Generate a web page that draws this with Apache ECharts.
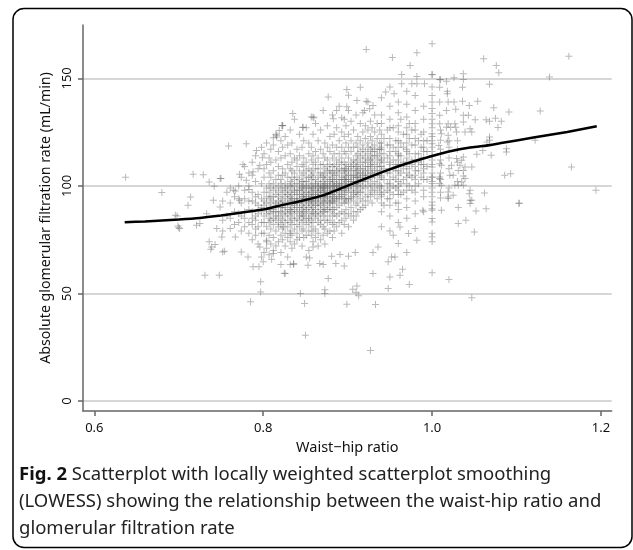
<!DOCTYPE html>
<html><head><meta charset="utf-8">
<script src="https://cdn.jsdelivr.net/npm/echarts@6/dist/echarts.min.js"></script>
<style>html,body{margin:0;padding:0;background:#fff}#c{width:633px;height:550px}</style>
</head><body><div id="c"></div>
<script>
const xTicks = [0.6, 0.8, 1.0, 1.2];
const yTicks = [0, 50, 100, 150];
const xTitle = 'Waist\u2212hip ratio';
const yTitle = 'Absolute glomerular filtration rate (mL/min)';

const lowessWhr = [0.636, 0.66, 0.70, 0.725, 0.75, 0.775, 0.80, 0.825, 0.845, 0.87, 0.895, 0.92, 0.945, 0.97, 1.0, 1.02, 1.045, 1.06, 1.08, 1.12, 1.16, 1.195];
const lowessGfr = [83.1, 83.5, 84.4, 85.1, 86.2, 87.6, 89.0, 91.3, 93.0, 95.5, 99.3, 103.2, 107.0, 110.4, 113.9, 116.0, 117.9, 118.5, 119.8, 122.5, 125.1, 127.7];

// individually read points (outer and sparse parts of the cloud)
const sparsePoints = [
[0.637,104.0],[0.680,96.9],[0.696,86.4],[0.701,80.2],[0.699,81.4],[0.714,94.8],[0.711,91.0],[0.717,105.4],[0.725,82.5],[0.729,105.2],
[0.731,58.5],[0.748,58.5],[0.736,101.8],[0.742,99.8],[0.750,103.4],[0.736,74.0],[0.739,71.6],[0.738,70.6],[0.743,72.7],[0.752,69.3],
[0.754,69.6],[0.751,76.3],[0.761,80.2],[0.767,76.3],[0.774,69.3],[0.782,67.0],[0.788,62.4],[0.795,62.4],[0.798,67.0],[0.797,55.4],
[0.785,46.1],[0.797,50.7],[0.826,59.3],[0.759,118.5],[0.780,119.6],[0.792,116.5],[0.799,113.1],[0.776,110.0],[0.772,105.4],[0.788,106.6],
[0.796,109.6],[0.780,102.6],[0.767,97.6],[0.783,98.3],[0.749,103.4],[0.741,93.3],[0.749,90.2],[0.765,98.0],[0.772,93.3],[0.745,80.2],
[0.733,87.1],[0.721,81.7],[0.700,80.6],[0.698,86.0],[0.816,122.7],[0.823,128.1],[0.835,133.6],[0.847,127.3],[0.859,132.0],[0.832,77.9],
[0.824,80.9],[0.804,74.7],[0.812,68.6],[0.796,71.6],[0.836,63.9],[0.844,50.0],[0.849,45.3],[0.851,67.0],[0.859,71.6],[0.850,30.6],
[0.899,45.0],[0.933,44.9],[0.927,23.5],[0.873,51.7],[0.873,50.0],[0.906,52.0],[0.911,53.5],[0.913,48.9],[0.910,50.5],[0.948,52.3],
[0.973,54.2],[1.000,59.6],[0.962,58.5],[0.950,57.7],[0.930,59.3],[0.877,57.0],[0.825,59.4],[0.821,63.5],[0.832,63.5],[0.836,63.5],
[0.853,63.1],[0.867,63.9],[0.871,63.5],[0.886,63.9],[0.896,62.8],[0.810,65.9],[0.800,64.7],[0.855,66.5],[0.881,67.3],[0.891,68.1],
[0.901,67.3],[0.909,69.0],[0.930,69.0],[0.948,64.7],[0.952,67.0],[0.956,67.0],[0.965,61.3],[0.970,69.0],[0.936,71.6],[0.960,73.2],
[0.982,74.7],[1.000,76.3],[1.000,74.0],[0.989,88.7],[1.000,88.7],[0.980,80.2],[0.972,77.9],[0.962,80.9],[0.954,77.1],
[1.103,91.8],[1.064,89.4],[1.052,88.3],[1.050,78.6],[1.040,84.0],[1.031,82.5],[1.031,89.9],[1.047,93.3],[1.045,91.8],[1.019,94.1],
[1.010,94.4],[1.011,88.7],[1.000,92.5],[1.000,89.4],[1.000,84.8],[1.000,83.2],[1.020,56.5],[1.047,48.0],
[1.000,166.1],[1.061,159.1],[1.076,156.0],[1.079,152.6],[1.162,160.3],[1.139,150.6],[1.068,147.2],[1.037,152.1],[1.026,150.3],[1.010,149.3],
[1.000,151.7],[1.036,145.9],[1.009,145.9],[1.018,144.0],[1.018,142.8],[1.000,139.0],[1.000,133.6],[1.000,128.9],[1.000,124.3],[1.000,119.6],
[1.000,108.8],[1.000,104.1],[1.000,101.1],[1.009,139.0],[1.019,139.0],[1.026,139.0],[1.036,139.4],[1.044,137.4],[1.054,139.4],[1.073,136.3],
[1.091,134.3],[1.128,134.8],[1.017,135.1],[1.028,135.6],[1.009,132.8],[1.037,132.8],[1.043,132.8],[1.051,130.8],[1.064,130.8],[1.068,130.1],
[1.075,131.5],[1.082,130.1],[1.078,127.1],[1.009,128.9],[1.019,128.9],[1.027,128.9],[1.017,127.3],[1.022,127.3],[1.028,127.3],[1.037,129.7],
[1.039,125.0],[1.029,125.0],[1.045,126.6],[1.047,125.0],[1.011,124.3],[1.019,123.5],[1.010,121.2],[1.018,120.4],[1.008,118.8],[1.068,122.7],
[1.068,121.2],[1.065,120.4],[1.122,121.2],[1.088,117.3],[1.088,115.8],[1.060,116.5],[1.053,114.7],[1.070,114.2],[1.037,113.4],[1.029,112.7],
[1.035,111.9],[1.009,110.3],[1.011,109.6],[1.023,109.6],[1.033,109.6],[1.039,108.8],[1.047,108.8],[1.031,107.2],[1.037,107.2],[1.021,104.9],
[1.025,104.9],[1.037,104.6],[1.039,103.4],[1.086,104.9],[1.093,105.7],[1.009,104.1],[1.009,103.4],[1.011,100.3],[1.009,101.1],[1.027,100.3],
[1.031,100.3],[1.035,101.8],[1.037,100.3],[1.045,98.0],[1.044,96.4],[1.045,93.3],[1.019,97.2],[1.025,95.6],[1.019,94.8],[1.062,96.7],
[1.103,92.1],[1.165,108.8],[1.194,98.0],
[0.922,163.4],[0.953,159.7],[0.982,161.9],[0.974,156.0],[0.964,151.8],[0.982,150.9],[1.000,151.8],[1.037,149.5],[1.009,149.5],[1.017,148.6],
[0.964,147.5],[0.976,147.5],[0.982,147.5],[0.991,147.5],[0.915,145.9],[0.899,144.8],[0.877,141.3],[0.901,142.1],[0.911,139.7],[0.922,139.4],
[0.945,143.6],[0.955,142.8],[0.930,137.4],[0.920,135.1],[0.926,135.9],[0.899,136.8],[0.887,135.1],[0.860,131.7],[0.883,131.2],[0.893,131.7],
[0.847,127.1],[0.822,128.1],[0.819,125.8],[0.812,122.4],[0.816,123.5]
];

// dense core, read as narrow columns of waist-hip ratio
const coreWhr = [
0.752,0.757,0.761,0.766,0.771,0.774,0.778,0.783,0.787,0.791,0.794,0.798,
0.801,0.804,0.807,0.809,0.812,0.815,0.818,0.821,0.823,0.826,0.829,0.832,0.834,0.837,0.840,0.843,0.846,0.848,0.851,0.854,0.857,0.859,
0.862,0.865,0.868,0.871,0.873,0.876,0.879,0.882,0.884,0.887,0.890,0.893,0.896,0.898,0.901,0.904,0.907,0.910,0.912,0.915,0.918,0.921,
0.924,0.927,0.929,0.932,0.935,0.938,
0.94,0.95,0.96,0.97,0.98,0.99,1.00,1.01,1.02,1.03,
0.943,0.947,0.954,0.957,0.963,0.966,0.973,0.976,0.984,0.987,0.994];
const coreGfr = [
[84,93,79],[86,97],[85,92,99],[82,88,95],[83,87,94,100],[79,86,92,104],
[81,85,88,94,98,109],[78,83,89,93,100,106],[75,82,85,88,93,97,105,111],[77,80,84,86,92,95,102,114],
[87,73,96,81,91,108],[83,94,78,88,101,118,90],
[91,78,104,86,69,97,115,83,93,108],
[87,99,74,92,110,81,95,120,89,71],
[94,83,101,77,88,113,68,97,85,106,90],
[80,92,99,87,117,73,95,104,84,90,111],
[89,76,98,93,85,107,70,101,82,119,95,88],
[92,84,79,103,96,88,112,72,99,86,124,91],
[86,95,81,100,91,74,109,88,97,116,83,93,105],
[90,98,77,85,94,103,88,113,69,92,82,101,121],
[93,87,80,99,105,90,75,96,118,84,108,91,128],
[88,95,83,101,92,78,106,97,72,114,90,86,99,123],
[94,81,98,89,104,92,76,110,87,100,84,119,96,67],
[91,86,102,95,79,108,89,97,74,115,93,83,100,126,88],
[96,88,82,104,93,99,77,111,90,85,101,120,94,71,107],
[89,97,84,92,106,80,100,94,113,87,73,103,91,131,98],
[93,85,101,96,78,109,90,88,104,82,98,117,94,75,112,92],
[90,98,86,103,94,81,107,92,99,76,114,88,96,124,84,101],
[95,87,102,91,83,99,110,93,79,105,89,97,118,72,100,86],
[92,100,88,96,84,106,94,80,102,90,113,98,86,121,76,95,109],
[97,89,93,104,85,100,91,111,82,95,77,107,99,88,127,94,102],
[94,101,87,96,108,83,92,99,79,104,90,115,97,85,70,93,120],
[99,91,86,103,95,81,107,93,100,89,112,77,97,84,118,94,105,132],
[92,98,104,88,95,83,101,110,90,79,96,87,114,99,74,106,93,124],
[96,89,101,93,85,108,98,80,103,91,116,87,95,111,76,100,94,129],
[94,100,88,97,105,91,83,102,95,113,78,99,86,108,92,121,72,97],
[98,91,104,95,87,101,93,110,82,99,89,117,96,84,106,75,126,100],
[95,102,90,98,86,106,93,100,81,110,97,88,115,92,77,104,135,99],
[100,94,88,103,97,84,108,92,99,113,80,96,89,120,105,73,101,95],
[97,104,91,99,86,107,95,101,83,112,93,89,118,100,78,109,96,128],
[99,93,106,96,88,102,110,94,84,100,90,116,98,79,107,123,92,103],
[101,95,89,104,98,92,109,86,100,113,96,82,106,93,119,76,103,133],
[98,105,92,100,95,110,87,102,97,83,115,94,107,89,124,100,79],
[103,96,90,107,99,93,112,101,86,98,118,94,105,81,127,100,109],
[100,106,94,98,111,91,103,87,97,115,101,83,108,95,121,99,137],
[104,98,92,107,101,113,95,88,100,118,96,110,84,103,125,99,78],
[101,108,96,103,92,111,99,87,105,116,98,82,107,123,94,131],
[106,99,94,110,102,89,104,115,97,100,85,120,108,93,128,103],
[103,97,109,100,92,113,105,87,99,118,101,94,124,107,81,135],
[100,107,95,111,103,90,98,116,105,86,121,102,94,130,109],
[105,99,112,102,93,108,96,118,104,88,101,126,110,84,97],
[102,109,97,106,114,100,91,111,104,120,95,86,107,133,101],
[107,100,112,96,104,118,102,92,109,123,98,88,115,105],
[103,110,99,106,116,94,108,101,121,97,113,89,129,104],
[108,102,114,97,105,119,100,111,93,125,106,90,117,134],
[104,111,99,107,116,102,95,113,122,109,91,128,105],
[109,103,115,100,107,120,96,112,105,126,93,118,139],
[106,112,101,109,117,98,114,104,123,95,130,110],
[111,104,116,100,108,121,97,113,106,127,92,118],
[107,114,102,110,119,99,116,105,125,96,133],
[112,105,117,101,109,122,98,114,129,107,94],
[109,115,103,111,120,100,117,106,126,97],
[81,88,92,95,99,100,104,105,109,112,113,117,120,124,129,133,141,107,96,118],
[79,86,91,94,97,101,103,106,108,111,114,116,119,122,127,131,137,146,110,99],
[83,89,92,96,100,102,105,107,110,114,115,118,121,125,128,134,139,112,98],
[85,90,94,98,101,104,106,109,113,116,117,120,124,127,132,138,144,111],
[87,93,97,100,103,107,109,112,115,119,122,126,129,135,142,105],
[88,95,98,103,106,110,113,116,118,121,125,131,137,108],
[78,91,95,97,99,102,104,106,110,112,114,116,118,121,123,127,131,136,142,146],
[97,103,106,112,115,117,126],
[99,108,113,118,121],
[102,111,117,121],
[97,108,115,103,122,91,111],
[101,94,113,106,119,126,98],
[104,112,96,118,108,127,100],
[99,107,116,92,121,110,103],
[106,114,101,120,96,110,131],
[103,111,97,118,108,124],
[108,100,115,122,105,129],
[112,104,119,98,110,126],
[107,115,101,121,111],
[110,118,104,124,113],
[109,116,103,121]
];

const scatterData = sparsePoints.slice();
coreWhr.forEach((x, i) => coreGfr[i].forEach(y => scatterData.push([x, y])));
const lowessData = lowessWhr.map((x, i) => [x, lowessGfr[i]]);

const FONT = 'Noto Sans';
const chart = echarts.init(document.getElementById('c'), null, {renderer: 'canvas'});
chart.setOption({
  animation: false,
  backgroundColor: '#fff',
  grid: {left: 83, right: 21.3, top: 25, bottom: 139},
  xAxis: {
    type: 'value', min: 0.5866, max: 1.2127,
    name: xTitle, nameLocation: 'middle', nameGap: 26,
    nameTextStyle: {fontFamily: FONT, fontSize: 14.5, color: '#111'},
    axisLine: {show: true, onZero: false, lineStyle: {color: '#666', width: 1.5}},
    axisTick: {show: true, length: 5, customValues: xTicks, lineStyle: {color: '#666', width: 1.5}},
    axisLabel: {customValues: xTicks, margin: 11, fontFamily: FONT, fontSize: 13, color: '#111', formatter: v => v.toFixed(1)},
    splitLine: {show: false}
  },
  yAxis: {
    type: 'value', min: -4.65, max: 174.8,
    name: yTitle, nameLocation: 'middle', nameGap: 29,
    nameTextStyle: {fontFamily: FONT, fontSize: 14.2, color: '#111'},
    axisLine: {show: true, onZero: false, lineStyle: {color: '#666', width: 1.5}},
    axisTick: {show: true, length: 5, customValues: yTicks, lineStyle: {color: '#666', width: 1.5}},
    axisLabel: {customValues: yTicks, rotate: 90, margin: 9, fontFamily: FONT, fontSize: 13, color: '#111'},
    splitLine: {show: true, lineStyle: {color: '#c8c8c8', width: 1.5}}
  },
  series: [
    {
      type: 'scatter', data: scatterData,
      symbol: 'path://M3,0H4V3H7V4H4V7H3V4H0V3H3Z', symbolSize: 7,
      itemStyle: {color: 'rgba(95,95,95,0.55)'},
      silent: true, z: 2
    },
    {
      type: 'line', data: lowessData, showSymbol: false, smooth: 0.2,
      lineStyle: {color: '#000', width: 2.5}, silent: true, z: 3
    }
  ],
  graphic: [
    {type: 'rect', shape: {x: 13, y: 8.5, width: 619, height: 539, r: 11},
     style: {fill: 'none', stroke: '#000', lineWidth: 1.5}, silent: true},
    {type: 'text', left: 19, top: 461,
     style: {
       text: '{b|Fig. 2} Scatterplot with locally weighted scatterplot smoothing\n(LOWESS) showing the relationship between the waist-hip ratio and\nglomerular filtration rate',
       fontFamily: FONT, fontSize: 18.5, lineHeight: 27, fill: '#222',
       rich: {b: {fontFamily: FONT, fontSize: 18.5, fontWeight: 'bold', fill: '#111', lineHeight: 27}}
     }}
  ]
});
</script></body></html>
